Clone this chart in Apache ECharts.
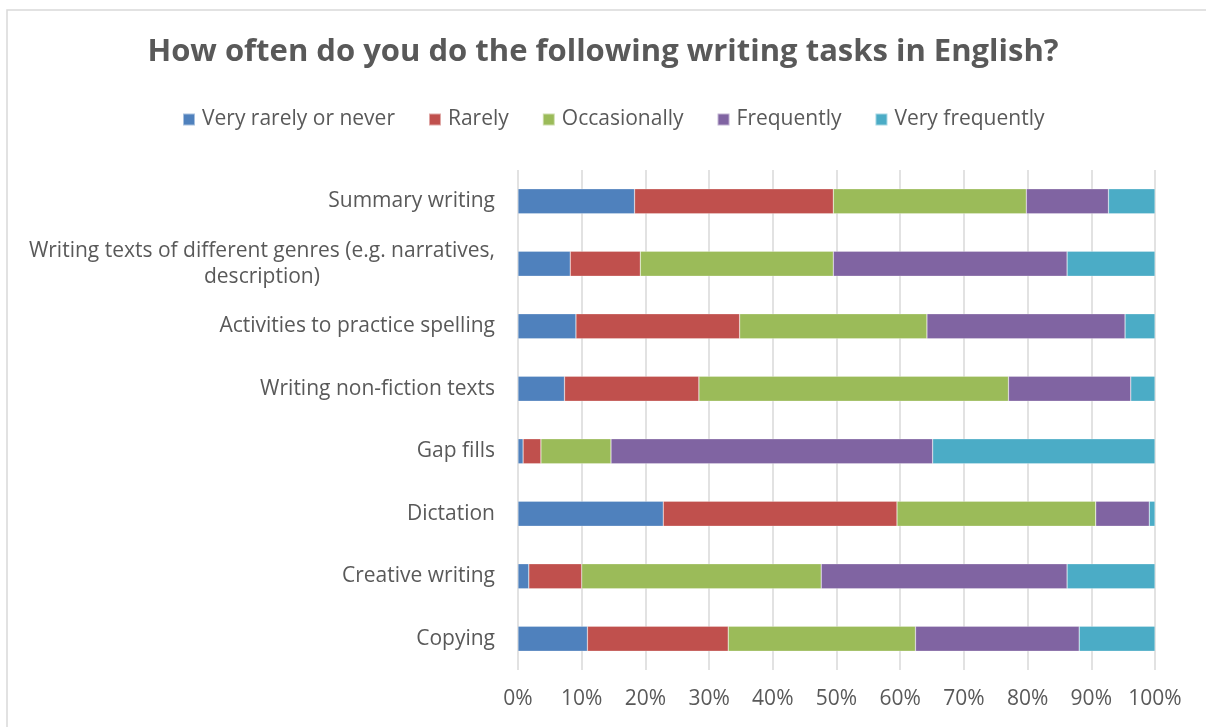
<!DOCTYPE html>
<html>
<head>
<meta charset="utf-8">
<style>
  html, body { margin: 0; padding: 0; background: #ffffff; }
  #chart { width: 1206px; height: 727px; }
</style>
<script src="https://cdn.jsdelivr.net/npm/echarts@6/dist/echarts.min.js"></script>
</head>
<body>
<div id="chart"></div>
<script>
// Writing tasks, listed top to bottom
const tasks = [
  'Summary writing',
  'Writing texts of different genres (e.g. narratives,\ndescription)',
  'Activities to practice spelling',
  'Writing non-fiction texts',
  'Gap fills',
  'Dictation',
  'Creative writing',
  'Copying'
];

// Share of respondents (%) per frequency answer, same order as tasks
const veryRarelyOrNever = [18.3, 8.2, 9.1, 7.3, 0.8, 22.8, 1.7, 10.9];
const rarely            = [31.2, 11.0, 25.7, 21.1, 2.8, 36.7, 8.3, 22.1];
const occasionally      = [30.3, 30.3, 29.4, 48.6, 11.0, 31.2, 37.6, 29.4];
const frequently        = [12.9, 36.7, 31.1, 19.2, 50.5, 8.4, 38.6, 25.7];
const veryFrequently    = [7.3, 13.8, 4.7, 3.8, 34.9, 0.9, 13.8, 11.9];

const percentTicks = ['0%', '10%', '20%', '30%', '40%', '50%', '60%', '70%', '80%', '90%', '100%'];

const seriesDefs = [
  { name: 'Very rarely or never', data: veryRarelyOrNever, color: '#4F81BD' },
  { name: 'Rarely',               data: rarely,            color: '#C0504D' },
  { name: 'Occasionally',         data: occasionally,      color: '#9BBB59' },
  { name: 'Frequently',           data: frequently,        color: '#8064A2' },
  { name: 'Very frequently',      data: veryFrequently,    color: '#4BACC6' }
];

const FONT = '"Open Sans", Lato, sans-serif';
const TEXT = '#595959';

const chart = echarts.init(document.getElementById('chart'), null, { renderer: 'canvas' });

chart.setOption({
  backgroundColor: '#ffffff',
  animation: false,
  graphic: [{
    type: 'rect',
    shape: { x: 7, y: 10, width: 1400, height: 900 },
    style: { fill: 'none', stroke: '#d9d9d9', lineWidth: 1.5 },
    silent: true,
    z: -10
  }],
  title: {
    text: 'How often do you do the following writing tasks in English?',
    left: 'center',
    top: 32,
    textStyle: { fontFamily: FONT, fontSize: 31, fontWeight: 'bold', color: TEXT }
  },
  legend: {
    top: 104,
    left: 177,
    itemWidth: 12,
    itemHeight: 12,
    itemGap: 33,
    icon: 'rect',
    textStyle: { fontFamily: FONT, fontSize: 21, color: TEXT, padding: [0, 0, 0, 2] },
    data: seriesDefs.map(s => s.name)
  },
  grid: { left: 518, right: 51, top: 170, bottom: 57, containLabel: false },
  xAxis: {
    type: 'value',
    min: 0,
    max: 100,
    interval: 10,
    axisLine: { show: false },
    axisTick: { show: false },
    splitLine: { show: true, lineStyle: { color: '#d9d9d9', width: 1.5 } },
    axisLabel: {
      margin: 19,
      fontFamily: FONT,
      fontSize: 21,
      color: TEXT,
      formatter: v => percentTicks[Math.round(v / 10)]
    }
  },
  yAxis: {
    type: 'category',
    inverse: true,
    data: tasks,
    axisLine: { show: false },
    axisTick: { show: false },
    axisLabel: {
      margin: 23,
      fontFamily: FONT,
      fontSize: 21,
      color: TEXT,
      lineHeight: 26,
      formatter: v => v.indexOf('\n') >= 0
        ? v.split('\n').map(line => '{c|' + line + '}').join('\n')
        : v,
      rich: {
        c: { align: 'center', fontFamily: FONT, fontSize: 21, color: TEXT, lineHeight: 26 }
      }
    }
  },
  series: seriesDefs.map(s => ({
    name: s.name,
    type: 'bar',
    stack: 'total',
    barWidth: 25,
    data: s.data,
    itemStyle: { color: s.color, borderColor: 'rgba(255,255,255,0.5)', borderWidth: 0.5 }
  }))
});
</script>
</body>
</html>
